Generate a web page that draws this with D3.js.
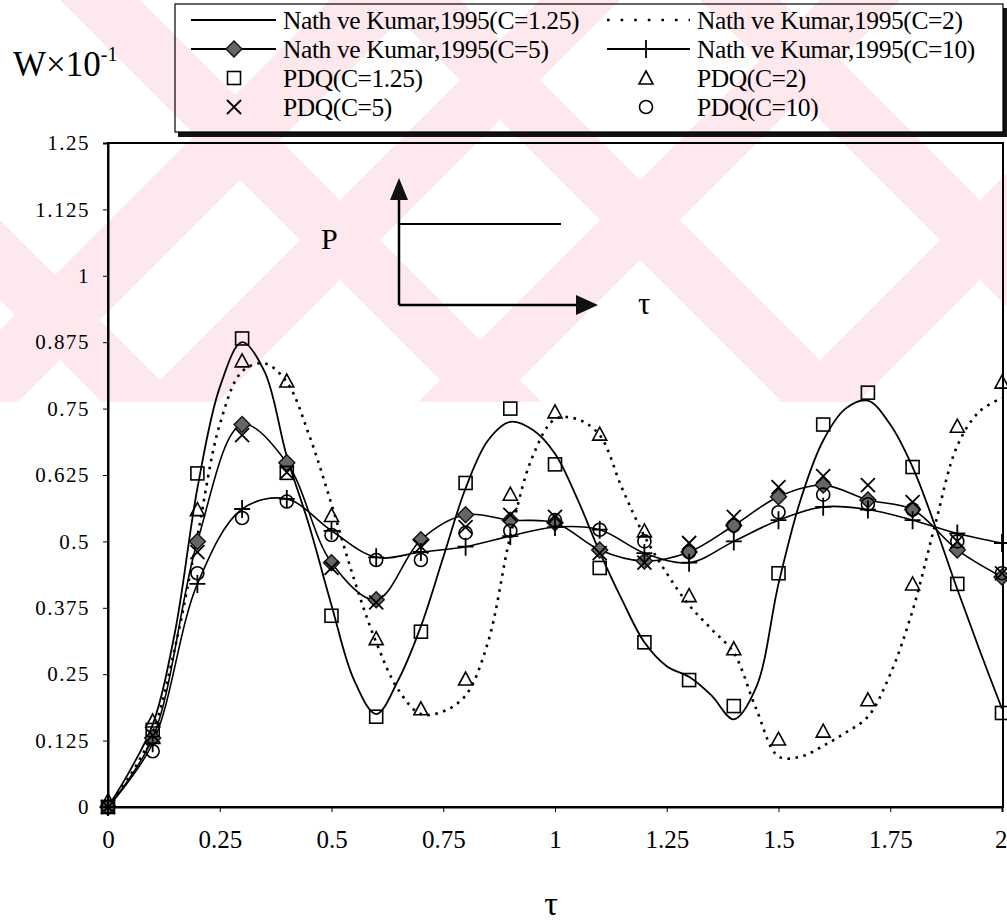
<!DOCTYPE html>
<html><head><meta charset="utf-8">
<script src="https://cdn.jsdelivr.net/npm/d3@7"></script>
<style>body{margin:0;background:#fff;} svg{display:block;}</style>
</head><body>
<svg id="chart" width="1007" height="921"></svg>
<script>
// ---------- data ----------
const xTickValues = [0, 0.25, 0.5, 0.75, 1, 1.25, 1.5, 1.75, 2];
const xTickLabels = ["0", "0.25", "0.5", "0.75", "1", "1.25", "1.5", "1.75", "2"];
const yTickValues = [0, 0.125, 0.25, 0.375, 0.5, 0.625, 0.75, 0.875, 1, 1.125, 1.25];
const yTickLabels = ["0", "0.125", "0.25", "0.375", "0.5", "0.625", "0.75", "0.875", "1", "1.125", "1.25"];

// sample times
const tauStep10 = [0,0.1,0.2,0.3,0.4,0.5,0.6,0.7,0.8,0.9,1.0,1.1,1.2,1.3,1.4,1.5,1.6,1.7,1.8,1.9,2.0];
const tauStep05 = [0,0.05,0.1,0.15,0.2,0.25,0.3,0.35,0.4,0.45,0.5,0.55,0.6,0.65,0.7,0.75,0.8,0.85,0.9,0.95,1.0,
                   1.05,1.1,1.15,1.2,1.25,1.3,1.35,1.4,1.45,1.5,1.55,1.6,1.65,1.7,1.75,1.8,1.85,1.9,1.95,2.0];

// Nath ve Kumar 1995 curves
const nathC125 = [0,0.07,0.155,0.33,0.60,0.79,0.875,0.82,0.66,0.53,0.38,0.24,0.175,0.24,0.34,0.47,0.60,0.69,0.725,0.71,0.665,
                  0.58,0.48,0.39,0.31,0.265,0.245,0.21,0.165,0.225,0.42,0.58,0.69,0.75,0.765,0.72,0.64,0.53,0.41,0.295,0.185];
const nathC2   = [0,0.06,0.14,0.30,0.51,0.72,0.82,0.835,0.80,0.70,0.57,0.43,0.31,0.22,0.175,0.18,0.21,0.31,0.51,0.66,0.73,
                  0.73,0.70,0.60,0.51,0.44,0.38,0.335,0.29,0.185,0.095,0.095,0.115,0.14,0.17,0.25,0.37,0.53,0.68,0.745,0.77];
const nathC5   = [0,0.13,0.50,0.72,0.648,0.46,0.39,0.503,0.55,0.54,0.535,0.484,0.463,0.48,0.53,0.584,0.606,0.578,0.56,0.484,0.433];
const nathC10  = [0,0.12,0.42,0.561,0.58,0.52,0.47,0.48,0.49,0.51,0.527,0.522,0.478,0.46,0.50,0.54,0.565,0.56,0.54,0.515,0.497];

// PDQ results
const pdqC125 = [0,0.145,0.628,0.882,0.629,0.36,0.17,0.33,0.61,0.75,0.645,0.45,0.31,0.239,0.19,0.44,0.72,0.78,0.64,0.42,0.177];
const pdqC2   = [0.01,0.16,0.558,0.838,0.80,0.547,0.315,0.183,0.239,0.587,0.742,0.70,0.518,0.396,0.296,0.126,0.141,0.20,0.418,0.715,0.798];
const pdqC5   = [0,0.135,0.48,0.70,0.63,0.45,0.385,0.49,0.527,0.55,0.546,0.478,0.46,0.497,0.546,0.602,0.623,0.606,0.574,0.50,0.44];
const pdqC10  = [0,0.105,0.44,0.544,0.575,0.512,0.465,0.465,0.516,0.52,0.54,0.522,0.50,0.48,0.53,0.555,0.588,0.57,0.56,0.50,0.44];

const legendLabels = ["Nath ve Kumar,1995(C=1.25)", "Nath ve Kumar,1995(C=2)",
                      "Nath ve Kumar,1995(C=5)", "Nath ve Kumar,1995(C=10)",
                      "PDQ(C=1.25)", "PDQ(C=2)", "PDQ(C=5)", "PDQ(C=10)"];

// ---------- layout ----------
const svg = d3.select("#chart");
const L = 108, R = 1002, T = 143, B = 807;
const x = d3.scaleLinear().domain([0, 2]).range([L, R]);
const y = d3.scaleLinear().domain([0, 1.25]).range([B, T]);
const serif = "'Liberation Serif','Times New Roman',serif";

// faint scanned-page watermark (decoration behind the chart)
const defs = svg.append("defs");
defs.append("clipPath").attr("id", "wmclip").append("rect").attr("x", 0).attr("y", 0).attr("width", 1007).attr("height", 402);
const wm = svg.append("g").attr("clip-path", "url(#wmclip)").attr("fill", "#fde9ed");
[[330, 420], [540, 620], [820, 900], [1180, 1260]].forEach(([a, b]) => {
  wm.append("path").attr("d", `M${a - 402},402 L${b - 402},402 L${b},0 L${a},0 Z`);
});
[[-300, -220], [60, 140], [380, 460], [700, 780]].forEach(([a, b]) => {
  wm.append("path").attr("d", `M${a},0 L${b},0 L${b + 402},402 L${a + 402},402 Z`);
});

// frame
svg.append("rect").attr("x", L).attr("y", T).attr("width", 1003 - L).attr("height", B - T)
  .attr("fill", "none").attr("stroke", "#000").attr("stroke-width", 2);

// axes
const yAxis = d3.axisLeft(y).tickValues(yTickValues).tickFormat((d, i) => yTickLabels[i]).tickSize(5).tickPadding(13);
const gy = svg.append("g").attr("transform", `translate(${L},0)`).call(yAxis);
gy.select(".domain").attr("stroke-width", 2);
gy.selectAll("text").attr("font-family", serif).attr("font-size", 21).attr("letter-spacing", 1.5).attr("fill", "#000");

const xAxis = d3.axisBottom(x).tickValues(xTickValues).tickFormat((d, i) => xTickLabels[i]).tickSize(5).tickPadding(18);
const gx = svg.append("g").attr("transform", `translate(0,${B})`).call(xAxis);
gx.select(".domain").attr("stroke-width", 2);
gx.selectAll("text").attr("font-family", serif).attr("font-size", 25).attr("fill", "#000");
gx.selectAll("text").filter((d, i) => i === xTickValues.length - 1).attr("text-anchor", "end").attr("dx", 5);

// titles
const wt = svg.append("text").attr("x", 13).attr("y", 76).attr("font-family", serif).attr("font-size", 35).attr("fill", "#000");
wt.append("tspan").text("W×10");
wt.append("tspan").attr("font-size", 20).attr("dy", -15).text("-1");
svg.append("text").attr("x", 551).attr("y", 915).attr("text-anchor", "middle").attr("font-family", serif)
  .attr("font-size", 34).text("τ");

// inset sketch
const ins = svg.append("g").attr("stroke", "#000").attr("stroke-width", 2.5);
ins.append("line").attr("x1", 399).attr("y1", 305).attr("x2", 399).attr("y2", 196);
ins.append("line").attr("x1", 399).attr("y1", 305).attr("x2", 580).attr("y2", 305);
ins.append("line").attr("x1", 399).attr("y1", 224).attr("x2", 561).attr("y2", 224).attr("stroke-width", 2);
svg.append("path").attr("d", "M399,178 L390,200 L408,200 Z").attr("fill", "#111");
svg.append("path").attr("d", "M598,305 L576,295 L576,315 Z").attr("fill", "#111");
svg.append("text").attr("x", 321).attr("y", 249).attr("font-family", serif).attr("font-size", 30).text("P");
svg.append("text").attr("x", 638).attr("y", 314).attr("font-family", serif).attr("font-size", 31).text("τ");

// ---------- series ----------
const line = d3.line().curve(d3.curveCatmullRom.alpha(0.5));
const plot = svg.append("g");
function pts(ts, vs) { return ts.map((t, i) => [x(t), y(vs[i])]); }

plot.append("path").attr("d", line(pts(tauStep05, nathC125))).attr("fill", "none").attr("stroke", "#000").attr("stroke-width", 1.8);
plot.append("path").attr("d", line(pts(tauStep05, nathC2))).attr("fill", "none").attr("stroke", "#000")
  .attr("stroke-width", 2.6).attr("stroke-dasharray", "2.6,5.5");
plot.append("path").attr("d", line(pts(tauStep10, nathC5))).attr("fill", "none").attr("stroke", "#000").attr("stroke-width", 1.6);
plot.append("path").attr("d", line(pts(tauStep10, nathC10))).attr("fill", "none").attr("stroke", "#000").attr("stroke-width", 1.6);

// marker drawers
function square(g, cx, cy) {
  g.append("rect").attr("x", cx - 6.5).attr("y", cy - 6.5).attr("width", 13).attr("height", 13)
    .attr("fill", "none").attr("stroke", "#000").attr("stroke-width", 1.6);
}
function triangle(g, cx, cy) {
  g.append("path").attr("d", `M${cx},${cy - 8} L${cx + 7},${cy + 5} L${cx - 7},${cy + 5} Z`)
    .attr("fill", "none").attr("stroke", "#000").attr("stroke-width", 1.6);
}
function cross(g, cx, cy) {
  g.append("path").attr("d", `M${cx - 7},${cy - 7} L${cx + 7},${cy + 7} M${cx + 7},${cy - 7} L${cx - 7},${cy + 7}`)
    .attr("stroke", "#000").attr("stroke-width", 1.8);
}
function circle(g, cx, cy) {
  g.append("circle").attr("cx", cx).attr("cy", cy).attr("r", 6.5)
    .attr("fill", "none").attr("stroke", "#000").attr("stroke-width", 1.6);
}
function diamond(g, cx, cy) {
  g.append("path").attr("d", `M${cx},${cy - 8} L${cx + 8},${cy} L${cx},${cy + 8} L${cx - 8},${cy} Z`)
    .attr("fill", "#666").attr("stroke", "#111").attr("stroke-width", 1.4);
}
function plus(g, cx, cy) {
  g.append("path").attr("d", `M${cx},${cy - 9} L${cx},${cy + 9} M${cx - 8},${cy} L${cx + 8},${cy}`)
    .attr("stroke", "#000").attr("stroke-width", 1.8);
}

tauStep10.forEach((t, i) => diamond(plot, x(t), y(nathC5[i])));
tauStep10.forEach((t, i) => plus(plot, x(t), y(nathC10[i])));
tauStep10.forEach((t, i) => square(plot, x(t), y(pdqC125[i])));
tauStep10.forEach((t, i) => triangle(plot, x(t), y(pdqC2[i])));
tauStep10.forEach((t, i) => cross(plot, x(t), y(pdqC5[i])));
tauStep10.forEach((t, i) => circle(plot, x(t), y(pdqC10[i])));

// ---------- legend ----------
const lg = svg.append("g");
lg.append("rect").attr("x", 178).attr("y", 132).attr("width", 829).attr("height", 5).attr("fill", "#111");
lg.append("rect").attr("x", 1003).attr("y", 8).attr("width", 4).attr("height", 129).attr("fill", "#111");
lg.append("rect").attr("x", 175).attr("y", 4).attr("width", 828).attr("height", 128)
  .attr("fill", "none").attr("stroke", "#000").attr("stroke-width", 1.2);

const rowY = [20, 49, 78, 107];
const colLineX = [[191, 276], [607, 690]];
const colTextX = [283, 697];
const colMarkX = [234, 646];
function legText(col, row, s) {
  lg.append("text").attr("x", colTextX[col]).attr("y", rowY[row] + 8.5).attr("font-family", serif)
    .attr("font-size", 25.5).attr("letter-spacing", -0.4).attr("fill", "#000").text(s);
}
function legLine(col, row, dashed) {
  const ln = lg.append("line").attr("x1", colLineX[col][0]).attr("x2", colLineX[col][1])
    .attr("y1", rowY[row]).attr("y2", rowY[row]).attr("stroke", "#000");
  if (dashed) ln.attr("stroke-width", 2.6).attr("stroke-dasharray", "2.6,11");
  else ln.attr("stroke-width", 1.8);
}
legLine(0, 0, false); legText(0, 0, legendLabels[0]);
legLine(1, 0, true);  legText(1, 0, legendLabels[1]);
legLine(0, 1, false); diamond(lg, colMarkX[0], rowY[1]); legText(0, 1, legendLabels[2]);
legLine(1, 1, false); plus(lg, colMarkX[1], rowY[1]); legText(1, 1, legendLabels[3]);
square(lg, colMarkX[0], rowY[2]); legText(0, 2, legendLabels[4]);
triangle(lg, colMarkX[1], rowY[2] + 1); legText(1, 2, legendLabels[5]);
cross(lg, colMarkX[0], rowY[3]); legText(0, 3, legendLabels[6]);
circle(lg, colMarkX[1], rowY[3]); legText(1, 3, legendLabels[7]);
</script>
</body></html>
